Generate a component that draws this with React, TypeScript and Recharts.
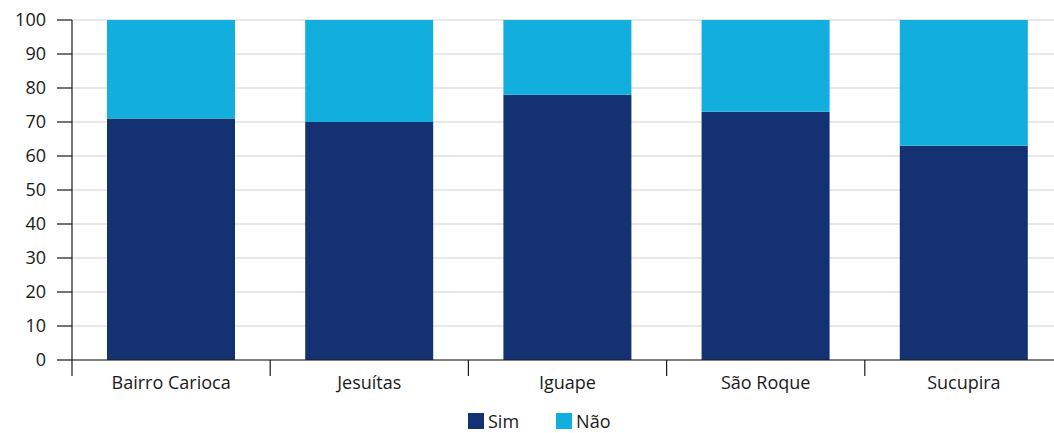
import React from 'react';
import { BarChart, Bar, XAxis, YAxis, CartesianGrid, Legend } from 'recharts';

const bairros = ['Bairro Carioca', 'Jesuítas', 'Iguape', 'São Roque', 'Sucupira'];
const series = ['Sim', 'Não'];
const sim = [71, 70, 78, 73, 63];
const nao = [29, 30, 22, 27, 37];
const yTicks = [0, 10, 20, 30, 40, 50, 60, 70, 80, 90, 100];

const SIM_COLOR = '#143272';
const NAO_COLOR = '#12aedd';
const AXIS = '#1a1a1a';
const FONT = '"Open Sans", "Noto Sans", sans-serif';

const data = bairros.map((name, i) => ({ name, Sim: sim[i], Não: nao[i] }));

// category label plus the separator marks on each side of its band
const CatTick = (props: any) => {
  const { x, y, width, visibleTicksCount, index, payload } = props;
  const step = width && visibleTicksCount ? width / visibleTicksCount : 0;
  const axisY = y - 16;
  return (
    <g>
      <line x1={x - step / 2} x2={x - step / 2} y1={axisY} y2={axisY + 16} stroke={AXIS} strokeWidth={1.2} />
      {index === visibleTicksCount - 1 && (
        <line x1={x + step / 2} x2={x + step / 2} y1={axisY} y2={axisY + 16} stroke={AXIS} strokeWidth={1.2} />
      )}
      <text x={x} y={y} dy="0.71em" textAnchor="middle" fill={AXIS} fontSize={18} fontFamily={FONT}>
        {payload.value}
      </text>
    </g>
  );
};

const LegendBox = ({ payload }: { payload?: Array<{ value: string; color: string }> }) => {
  const items = [...(payload || [])].sort((a, b) => series.indexOf(a.value) - series.indexOf(b.value));
  return (
    <div style={{ display: 'flex', gap: 37, fontFamily: FONT, fontSize: 18, lineHeight: '22px', color: AXIS }}>
      {items.map((p) => (
        <div key={p.value} style={{ display: 'flex', alignItems: 'center', gap: 4 }}>
          <span style={{ display: 'inline-block', width: 16, height: 16, background: p.color }} />
          <span>{p.value}</span>
        </div>
      ))}
    </div>
  );
};

export default function App() {
  return (
    <div style={{ position: 'absolute', left: 0, top: 0, width: 1054, height: 433, overflow: 'hidden', background: '#fff' }}>
      <BarChart width={1070} height={433} data={data} margin={{ top: 20, right: 7, bottom: 43, left: 0 }}>
        <CartesianGrid vertical={false} stroke="#e0e0e0" strokeWidth={1.5} />
        <XAxis dataKey="name" height={30} tickLine={false} tickSize={0} tickMargin={16} interval={0}
          axisLine={{ stroke: AXIS, strokeWidth: 1.2 }} tick={<CatTick />} />
        <YAxis domain={[0, 100]} ticks={yTicks} width={72} interval={0}
          axisLine={{ stroke: AXIS, strokeWidth: 1.2 }} tickLine={{ stroke: AXIS, strokeWidth: 1.2 }}
          tickSize={15} tickMargin={11} tick={{ fill: AXIS, fontSize: 18, fontFamily: FONT }} />
        <Legend verticalAlign="middle" align="center" content={<LegendBox />}
          wrapperStyle={{ top: 410, left: 468, width: 'auto' }} />
        <Bar dataKey="Sim" stackId="a" fill={SIM_COLOR} barSize={128} isAnimationActive={false} />
        <Bar dataKey="Não" stackId="a" fill={NAO_COLOR} barSize={128} isAnimationActive={false} />
      </BarChart>
    </div>
  );
}
